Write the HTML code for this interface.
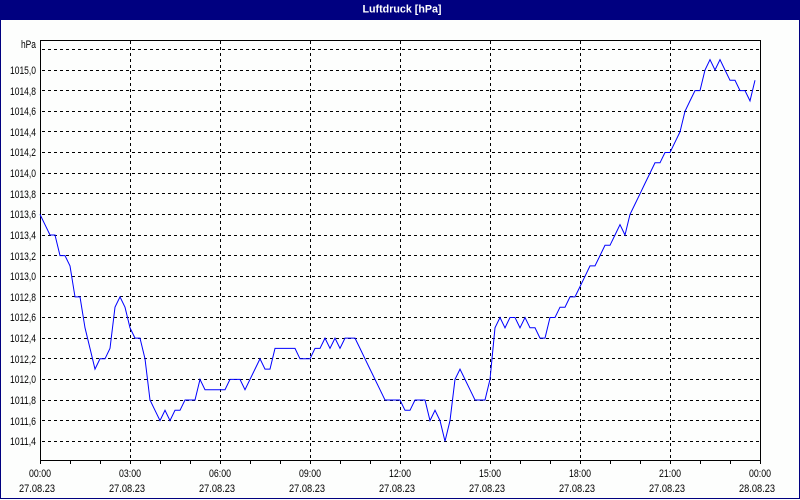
<!DOCTYPE html>
<html>
<head>
<meta charset="utf-8">
<style>
  html,body{margin:0;padding:0;background:#fff;}
  svg{display:block;}
  text{font-family:"Liberation Sans",sans-serif;font-size:11px;fill:#000;}
</style>
</head>
<body>
<svg width="800" height="500" viewBox="0 0 800 500" xmlns="http://www.w3.org/2000/svg">
  <rect x="0" y="0" width="800" height="500" fill="#fdfefd"/>
  <!-- title bar -->
  <rect x="0" y="0" width="800" height="20" fill="#000080"/>
  <text x="362.5" y="12.5" textLength="79" lengthAdjust="spacingAndGlyphs" style="font-weight:bold;fill:#fff;font-size:11px">Luftdruck [hPa]</text>
  <!-- outer border -->
  <rect x="0.5" y="19.5" width="799" height="479" fill="none" stroke="#000080" stroke-width="1" shape-rendering="crispEdges"/>

  <!-- horizontal dashed grid -->
  <g stroke="#000" stroke-width="1" stroke-dasharray="3,3" shape-rendering="crispEdges">
    <line x1="42" x2="760" y1="49.5" y2="49.5"/>
    <line x1="42" x2="760" y1="70.5" y2="70.5"/>
    <line x1="42" x2="760" y1="90.5" y2="90.5"/>
    <line x1="42" x2="760" y1="111.5" y2="111.5"/>
    <line x1="42" x2="760" y1="131.5" y2="131.5"/>
    <line x1="42" x2="760" y1="152.5" y2="152.5"/>
    <line x1="42" x2="760" y1="173.5" y2="173.5"/>
    <line x1="42" x2="760" y1="193.5" y2="193.5"/>
    <line x1="42" x2="760" y1="214.5" y2="214.5"/>
    <line x1="42" x2="760" y1="235.5" y2="235.5"/>
    <line x1="42" x2="760" y1="255.5" y2="255.5"/>
    <line x1="42" x2="760" y1="276.5" y2="276.5"/>
    <line x1="42" x2="760" y1="296.5" y2="296.5"/>
    <line x1="42" x2="760" y1="317.5" y2="317.5"/>
    <line x1="42" x2="760" y1="338.5" y2="338.5"/>
    <line x1="42" x2="760" y1="358.5" y2="358.5"/>
    <line x1="42" x2="760" y1="379.5" y2="379.5"/>
    <line x1="42" x2="760" y1="400.5" y2="400.5"/>
    <line x1="42" x2="760" y1="420.5" y2="420.5"/>
    <line x1="42" x2="760" y1="441.5" y2="441.5"/>
  </g>
  <!-- vertical dashed grid -->
  <g stroke="#000" stroke-width="1" stroke-dasharray="3,3" shape-rendering="crispEdges">
    <line x1="130.5" x2="130.5" y1="41" y2="460"/>
    <line x1="220.5" x2="220.5" y1="41" y2="460"/>
    <line x1="310.5" x2="310.5" y1="41" y2="460"/>
    <line x1="400.5" x2="400.5" y1="41" y2="460"/>
    <line x1="490.5" x2="490.5" y1="41" y2="460"/>
    <line x1="580.5" x2="580.5" y1="41" y2="460"/>
    <line x1="670.5" x2="670.5" y1="41" y2="460"/>
  </g>

  <!-- plot frame -->
  <rect x="40.5" y="40.5" width="720" height="420" fill="none" stroke="#000" stroke-width="1" shape-rendering="crispEdges"/>

  <!-- x ticks (hourly) -->
  <g stroke="#000" stroke-width="1" shape-rendering="crispEdges">
    <line x1="40.5" x2="40.5" y1="460" y2="464"/>
    <line x1="70.5" x2="70.5" y1="460" y2="464"/>
    <line x1="100.5" x2="100.5" y1="460" y2="464"/>
    <line x1="130.5" x2="130.5" y1="460" y2="464"/>
    <line x1="160.5" x2="160.5" y1="460" y2="464"/>
    <line x1="190.5" x2="190.5" y1="460" y2="464"/>
    <line x1="220.5" x2="220.5" y1="460" y2="464"/>
    <line x1="250.5" x2="250.5" y1="460" y2="464"/>
    <line x1="280.5" x2="280.5" y1="460" y2="464"/>
    <line x1="310.5" x2="310.5" y1="460" y2="464"/>
    <line x1="340.5" x2="340.5" y1="460" y2="464"/>
    <line x1="370.5" x2="370.5" y1="460" y2="464"/>
    <line x1="400.5" x2="400.5" y1="460" y2="464"/>
    <line x1="430.5" x2="430.5" y1="460" y2="464"/>
    <line x1="460.5" x2="460.5" y1="460" y2="464"/>
    <line x1="490.5" x2="490.5" y1="460" y2="464"/>
    <line x1="520.5" x2="520.5" y1="460" y2="464"/>
    <line x1="550.5" x2="550.5" y1="460" y2="464"/>
    <line x1="580.5" x2="580.5" y1="460" y2="464"/>
    <line x1="610.5" x2="610.5" y1="460" y2="464"/>
    <line x1="640.5" x2="640.5" y1="460" y2="464"/>
    <line x1="670.5" x2="670.5" y1="460" y2="464"/>
    <line x1="700.5" x2="700.5" y1="460" y2="464"/>
    <line x1="730.5" x2="730.5" y1="460" y2="464"/>
    <line x1="760.5" x2="760.5" y1="460" y2="464"/>
  </g>

  <!-- y labels -->
  <g text-anchor="end">
    <text x="36" y="48" textLength="15" lengthAdjust="spacingAndGlyphs">hPa</text>
    <text x="36" y="74" textLength="26" lengthAdjust="spacingAndGlyphs">1015,0</text>
    <text x="36" y="95" textLength="26" lengthAdjust="spacingAndGlyphs">1014,8</text>
    <text x="36" y="115" textLength="26" lengthAdjust="spacingAndGlyphs">1014,6</text>
    <text x="36" y="136" textLength="26" lengthAdjust="spacingAndGlyphs">1014,4</text>
    <text x="36" y="156" textLength="26" lengthAdjust="spacingAndGlyphs">1014,2</text>
    <text x="36" y="177" textLength="26" lengthAdjust="spacingAndGlyphs">1014,0</text>
    <text x="36" y="198" textLength="26" lengthAdjust="spacingAndGlyphs">1013,8</text>
    <text x="36" y="218" textLength="26" lengthAdjust="spacingAndGlyphs">1013,6</text>
    <text x="36" y="239" textLength="26" lengthAdjust="spacingAndGlyphs">1013,4</text>
    <text x="36" y="260" textLength="26" lengthAdjust="spacingAndGlyphs">1013,2</text>
    <text x="36" y="280" textLength="26" lengthAdjust="spacingAndGlyphs">1013,0</text>
    <text x="36" y="301" textLength="26" lengthAdjust="spacingAndGlyphs">1012,8</text>
    <text x="36" y="321" textLength="26" lengthAdjust="spacingAndGlyphs">1012,6</text>
    <text x="36" y="342" textLength="26" lengthAdjust="spacingAndGlyphs">1012,4</text>
    <text x="36" y="363" textLength="26" lengthAdjust="spacingAndGlyphs">1012,2</text>
    <text x="36" y="383" textLength="26" lengthAdjust="spacingAndGlyphs">1012,0</text>
    <text x="36" y="404" textLength="26" lengthAdjust="spacingAndGlyphs">1011,8</text>
    <text x="36" y="425" textLength="26" lengthAdjust="spacingAndGlyphs">1011,6</text>
    <text x="36" y="445" textLength="26" lengthAdjust="spacingAndGlyphs">1011,4</text>
  </g>

  <!-- x labels -->
  <g text-anchor="middle">
    <text x="40" y="477" textLength="22" lengthAdjust="spacingAndGlyphs">00:00</text>
    <text x="130" y="477" textLength="22" lengthAdjust="spacingAndGlyphs">03:00</text>
    <text x="220" y="477" textLength="22" lengthAdjust="spacingAndGlyphs">06:00</text>
    <text x="310" y="477" textLength="22" lengthAdjust="spacingAndGlyphs">09:00</text>
    <text x="400" y="477" textLength="22" lengthAdjust="spacingAndGlyphs">12:00</text>
    <text x="490" y="477" textLength="22" lengthAdjust="spacingAndGlyphs">15:00</text>
    <text x="580" y="477" textLength="22" lengthAdjust="spacingAndGlyphs">18:00</text>
    <text x="670" y="477" textLength="22" lengthAdjust="spacingAndGlyphs">21:00</text>
    <text x="760" y="477" textLength="22" lengthAdjust="spacingAndGlyphs">00:00</text>
    <text x="37" y="492" textLength="36" lengthAdjust="spacingAndGlyphs">27.08.23</text>
    <text x="127" y="492" textLength="36" lengthAdjust="spacingAndGlyphs">27.08.23</text>
    <text x="217" y="492" textLength="36" lengthAdjust="spacingAndGlyphs">27.08.23</text>
    <text x="307" y="492" textLength="36" lengthAdjust="spacingAndGlyphs">27.08.23</text>
    <text x="397" y="492" textLength="36" lengthAdjust="spacingAndGlyphs">27.08.23</text>
    <text x="487" y="492" textLength="36" lengthAdjust="spacingAndGlyphs">27.08.23</text>
    <text x="577" y="492" textLength="36" lengthAdjust="spacingAndGlyphs">27.08.23</text>
    <text x="667" y="492" textLength="36" lengthAdjust="spacingAndGlyphs">27.08.23</text>
    <text x="757" y="492" textLength="36" lengthAdjust="spacingAndGlyphs">28.08.23</text>
  </g>

  <!-- data series -->
  <polyline fill="none" stroke="#0000ff" stroke-width="1" points="
    40,214.4 45,224.7 50,235 55,235 60,255.6 65,255.6 70,265.9 75,296.9 80,296.9 85,327.8 90,348.4 95,369.1
    100,358.8 105,358.8 110,348.4 115,307.2 120,296.9 125,307.2 130,327.8 135,338.1 140,338.1 145,358.8
    150,400 155,410.3 160,420.6 165,410.3 170,420.6 175,410.3 180,410.3 185,400 190,400 195,400
    200,379.4 205,389.7 210,389.7 215,389.7 220,389.7 225,389.7 230,379.4 235,379.4 240,379.4 245,389.7
    250,379.4 255,369.1 260,358.8 265,369.1 270,369.1 275,348.4 280,348.4 285,348.4 290,348.4 295,348.4
    300,358.8 305,358.8 310,358.8 315,348.4 320,348.4 325,338.1 330,348.4 335,338.1 340,348.4 345,338.1
    350,338.1 355,338.1 360,348.4 365,358.8 370,369.1 375,379.4 380,389.7 385,400 390,400 395,400
    400,400 405,410.3 410,410.3 415,400 420,400 425,400 430,420.6 435,410.3 440,420.6 445,441.3
    450,420.6 455,379.4 460,369.1 465,379.4 470,389.7 475,400 480,400 485,400 490,379.4 495,327.8
    500,317.5 505,327.8 510,317.5 515,317.5 520,327.8 525,317.5 530,327.8 535,327.8 540,338.1 545,338.1
    550,317.5 555,317.5 560,307.2 565,307.2 570,296.9 575,296.9 580,286.6 585,276.3 590,265.9 595,265.9
    600,255.6 605,245.3 610,245.3 615,235 620,224.7 625,235 630,214.4 635,204.1 640,193.8 645,183.4
    650,173.1 655,162.8 660,162.8 665,152.5 670,152.5 675,142.2 680,131.9 685,111.3 690,100.9 695,90.6
    700,90.6 705,70 710,59.7 715,70 720,59.7 725,70 730,80.3 735,80.3 740,90.6 745,90.6 750,100.9 755,80.3"/>
</svg>
</body>
</html>
